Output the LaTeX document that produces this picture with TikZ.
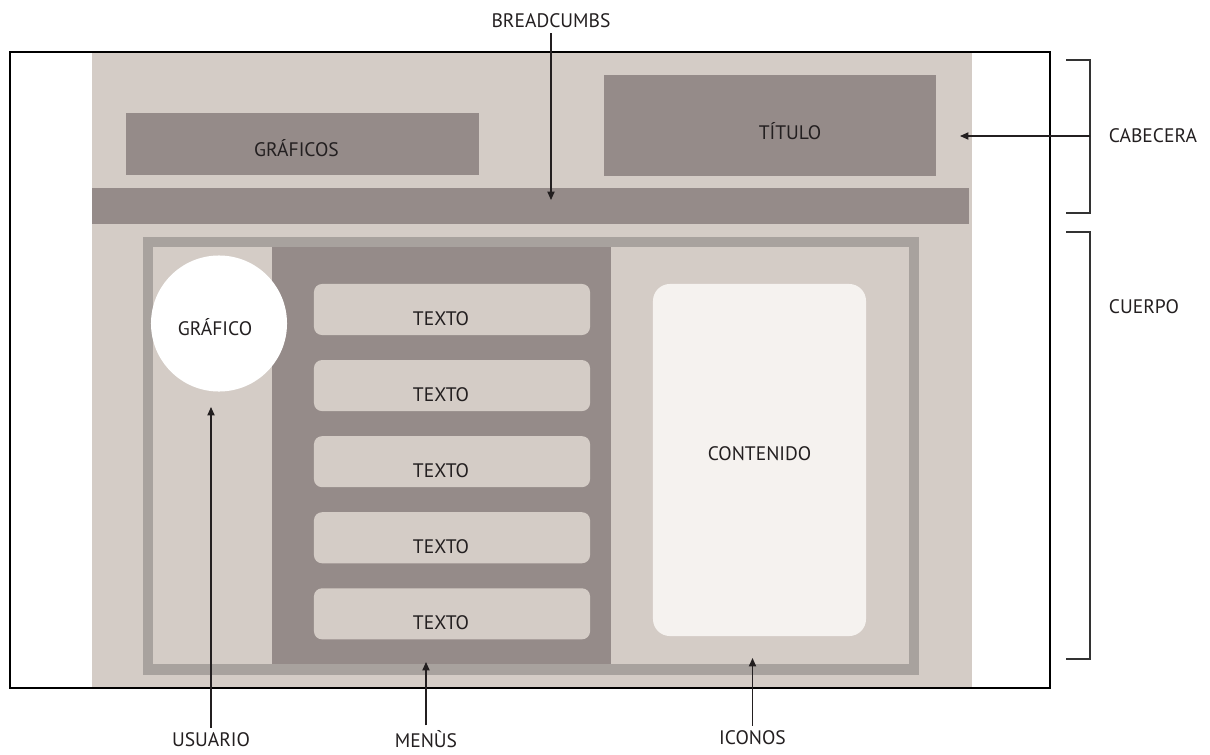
\documentclass[tikz,border=0pt]{standalone}
\usepackage{fontspec}
\setmainfont{PT Sans}
\usetikzlibrary{arrows.meta,positioning}
\definecolor{fondo}{RGB}{212,204,198}
\definecolor{oscuro}{RGB}{149,139,137}
\definecolor{marco}{RGB}{168,162,158}
\definecolor{claro}{RGB}{245,242,239}
\definecolor{tinta}{RGB}{35,31,32}
\tikzset{
  bloque/.style={rectangle,fill=oscuro,inner sep=0pt},
  texto/.style={rectangle,rounded corners=0.2cm,fill=fondo,inner sep=0pt,minimum width=6.9cm,minimum height=1.275cm,label={[xshift=-0.275cm,yshift=-0.22cm]center:#1}},
  flecha/.style={->,line width=0.9pt,tinta},
  llave/.style={line width=0.8pt,black!80}
}
\begin{document}
\begin{tikzpicture}[x=0.025cm,y=-0.025cm,node distance=0.6125cm,>={Triangle[length=2.1mm,width=1.8mm]},font=\fontsize{13.9}{16}\selectfont,text=tinta]
\useasboundingbox (0,0) rectangle (1210,755);

\fill[fondo] (92,53) rectangle (972,688);

\node[bloque,minimum width=8.825cm,minimum height=1.55cm,label={[xshift=-0.15cm,yshift=-0.1cm]center:GRÁFICOS}] (graficos) at (302.5,144) {};
\node[bloque,minimum width=8.3cm,minimum height=2.525cm,label={[xshift=0.5cm,yshift=-0.15cm]center:TÍTULO}] (titulo) at (770,125.5) {};
\node[bloque,minimum width=21.925cm,minimum height=0.9cm] (migas) at (530.5,206) {};

\fill[marco] (143,236.5) rectangle (919,675);
\fill[fondo] (153,247) rectangle (908.5,664);
\node[bloque,minimum width=8.475cm,minimum height=10.425cm] (colmenu) at (441.5,455.5) {};

\node[circle,fill=white,inner sep=0pt,minimum size=3.4cm,label={[xshift=-0.1cm,yshift=-0.08cm]center:GRÁFICO}] (grafico) at (219,323.5) {};

\node[texto=TEXTO] (t1) at (452,309.5) {};
\node[texto=TEXTO] (t2) [below=of t1] {};
\node[texto=TEXTO] (t3) [below=of t2] {};
\node[texto=TEXTO] (t4) [below=of t3] {};
\node[texto=TEXTO] (t5) [below=of t4] {};

\node[rectangle,rounded corners=0.425cm,fill=claro,inner sep=0pt,minimum width=5.325cm,minimum height=8.8cm,label={[yshift=0.17cm]center:CONTENIDO}] (contenido) at (759.5,460) {};

\draw[line width=2.1pt,black] (10,52) rectangle (1050,688);

\node (breadcumbs) at (551,21) {BREADCUMBS};
\node (usuario) at (211,740) {USUARIO};
\node (menus) at (426,739) {MENÙS};
\node (iconos) at (752.5,738) {ICONOS};
\node[anchor=west] (cabecera) at (1104,136) {CABECERA};
\node[anchor=west] (cuerpo) at (1104,307) {CUERPO};

\coordinate (pmigas) at (551,200);
\coordinate (pusuario) at (211,407);
\coordinate (pmenus) at (426,662);
\coordinate (piconos) at (752.5,658);
\coordinate (llcab) at (1090,136);
\coordinate (pcab) at (960,136);

\draw[llave] (1066,60) -- (1090,60) -- (1090,213) -- (1066,213);
\draw[llave] (1066,232) -- (1090,232) -- (1090,659) -- (1066,659);

\draw[flecha] (breadcumbs) -- (pmigas);
\draw[flecha] (usuario) -- (pusuario);
\draw[flecha] (menus) -- (pmenus);
\draw[flecha] (iconos) -- (piconos);
\draw[flecha] (llcab) -- (pcab);
\end{tikzpicture}
\end{document}
